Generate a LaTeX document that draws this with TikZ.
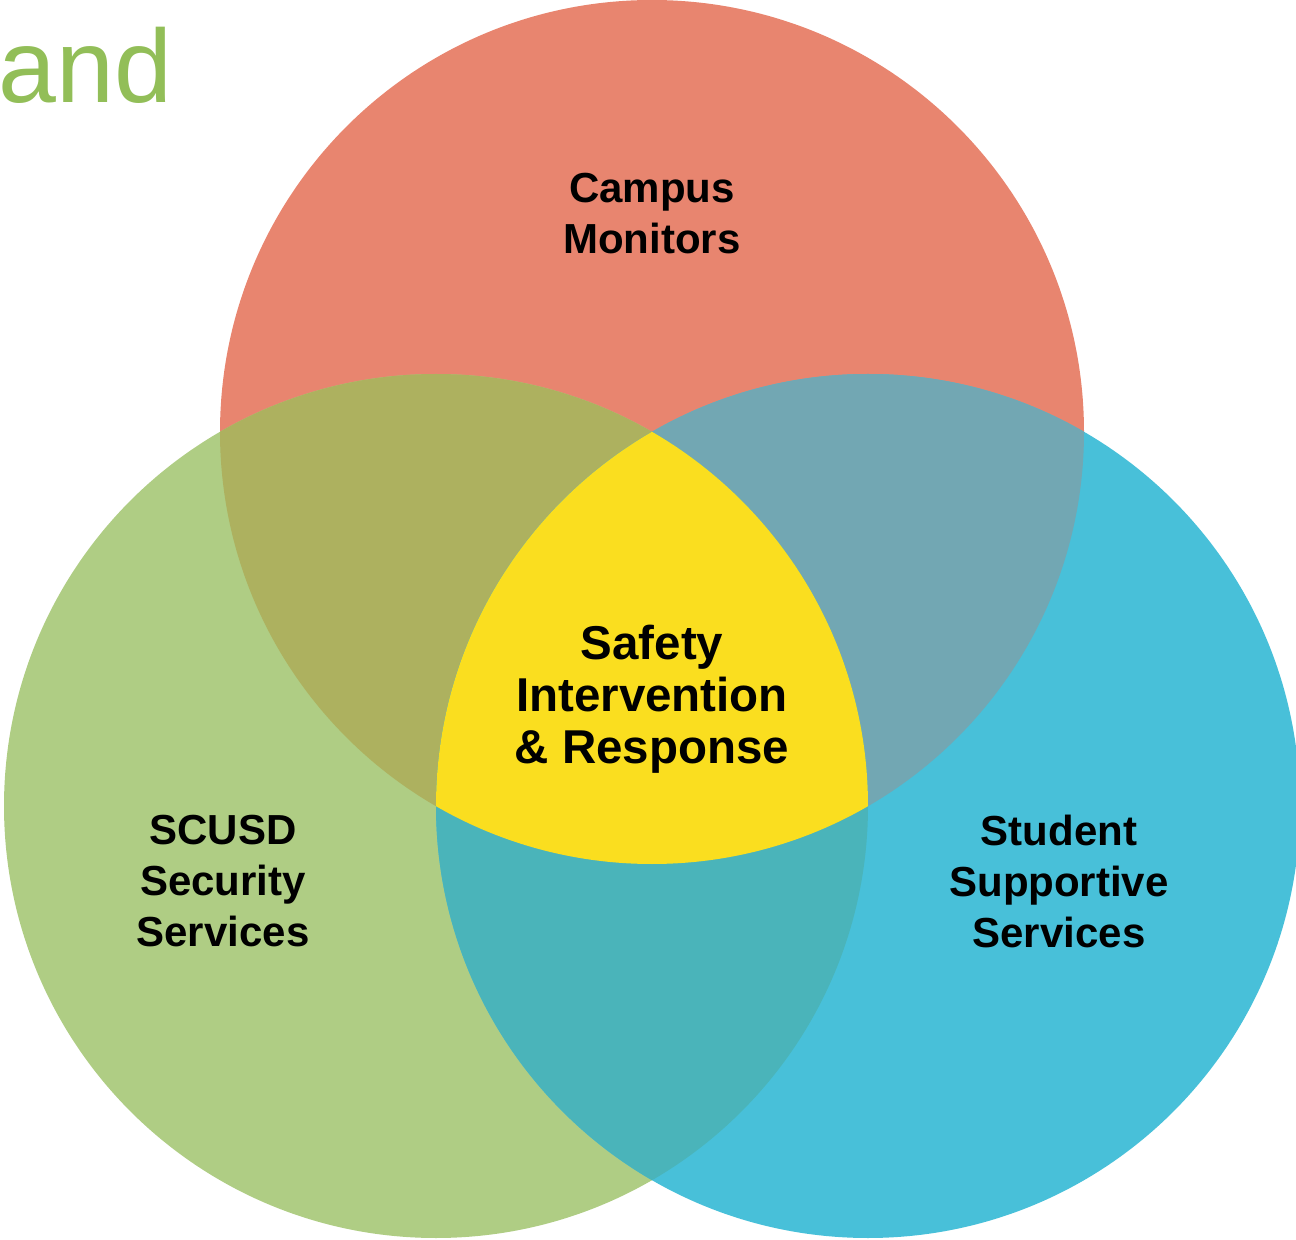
\documentclass[tikz,border=0pt]{standalone}
\usepackage{fontspec}
\setmainfont{Liberation Sans}
\usepackage{xcolor}

\definecolor{monitorred}{HTML}{E8856F}
\definecolor{securitygreen}{HTML}{AFCD84}
\definecolor{supportblue}{HTML}{48C0D9}
\definecolor{redgreen}{HTML}{ADB15F}
\definecolor{redblue}{HTML}{72A7B3}
\definecolor{greenblue}{HTML}{4AB4BA}
\definecolor{safetyyellow}{HTML}{FADE1F}
\definecolor{andgreen}{HTML}{92BE58}

\begin{document}
\begin{tikzpicture}[x=0.5pt,y=-0.5pt]
	\tikzstyle{every node}+=[inner sep=0pt]
	\tikzstyle{label}=[align=center, font=\bfseries\fontsize{21}{25.5}\selectfont]
	\useasboundingbox (0,0) rectangle (1296,1240);
	\clip (0,0) rectangle (1296,1240);
	\coordinate (top) at (652,432);
	\coordinate (left) at (436,806);
	\coordinate (right) at (868,806);
	\fill [monitorred] (top) circle (432);
	\fill [securitygreen] (left) circle (432);
	\fill [supportblue] (right) circle (432);
	\begin{scope}
		\clip (top) circle (432);
		\fill [redgreen] (left) circle (432);
	\end{scope}
	\begin{scope}
		\clip (top) circle (432);
		\fill [redblue] (right) circle (432);
	\end{scope}
	\begin{scope}
		\clip (left) circle (432);
		\fill [greenblue] (right) circle (432);
	\end{scope}
	\begin{scope}
		\clip (left) circle (432);
		\clip (right) circle (432);
		\fill [safetyyellow] (top) circle (432);
	\end{scope}
	\node [label] (monitors) at (652,214) {Campus\\Monitors};
	\node [label] (security) at (223,881) {SCUSD\\Security\\Services};
	\node [label] (support) at (1059,881) {Student\\Supportive\\Services};
	\node [label, font=\bfseries\fontsize{23.75}{26}\selectfont] (safety) at (652,699) {Safety\\Intervention\\\& Response};
	\node [anchor=base west, text=andgreen, font=\fontsize{52}{60}\selectfont] (and) at (-2,103) {and};
\end{tikzpicture}
\end{document}
